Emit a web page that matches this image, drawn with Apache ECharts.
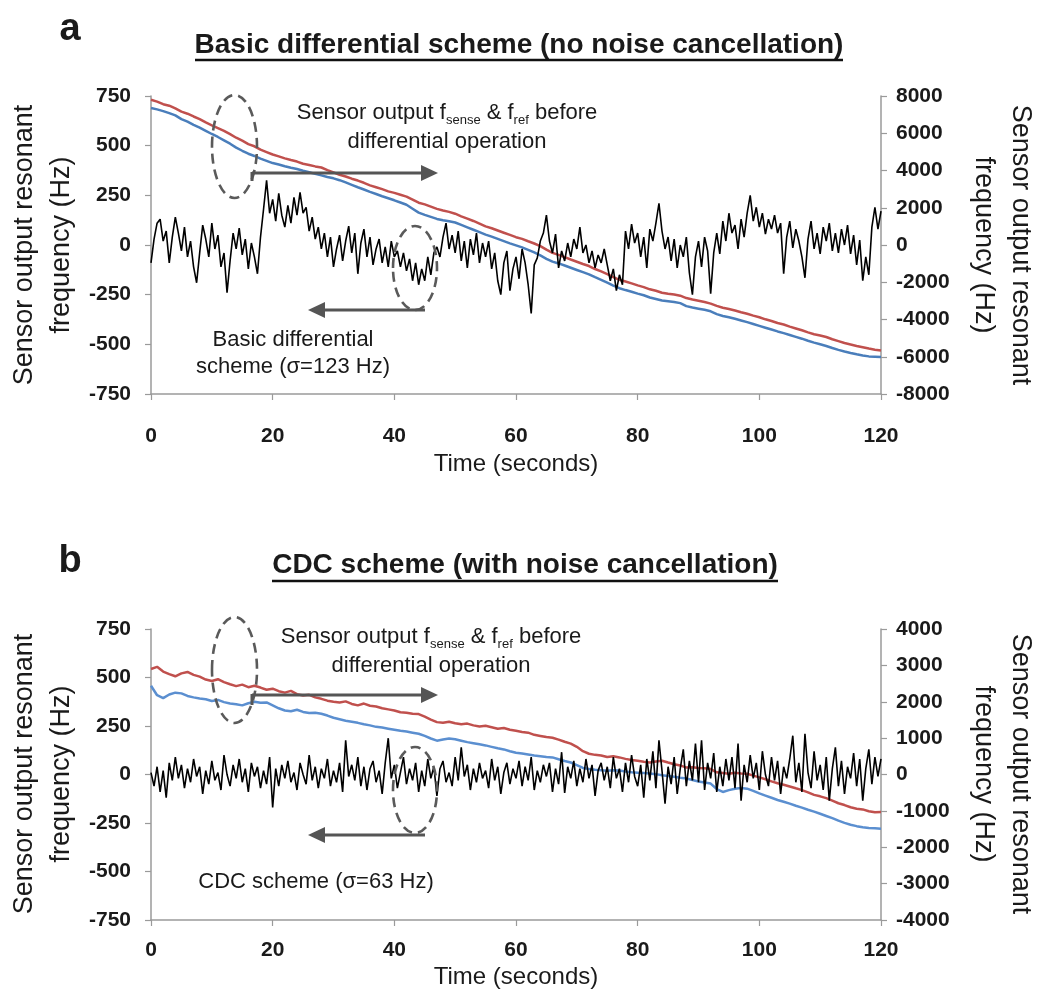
<!DOCTYPE html>
<html><head><meta charset="utf-8">
<script src="https://cdn.jsdelivr.net/npm/echarts@6/dist/echarts.min.js"></script>
<style>html,body{margin:0;padding:0;background:#fff}#c{width:1040px;height:997px}</style>
</head><body><div id="c"></div>
<script>
// ---------------- DATA ----------------
const xTickLabels = ['0','20','40','60','80','100','120'];
const leftTickLabels = ['-750','-500','-250','0','250','500','750'];
const rightTickLabelsA = ['-8000','-6000','-4000','-2000','0','2000','4000','6000','8000'];
const rightTickLabelsB = ['-4000','-3000','-2000','-1000','0','1000','2000','3000','4000'];

// Panel a: basic differential output (left axis, Hz), sampled every 0.5 s
const blackA = [
 -90,30,110,130,20,70,-90,40,140,60,
 -30,90,-60,20,-110,-190,-40,100,30,-60,
 110,-20,50,-110,-40,-240,-80,60,-20,85,
 -50,30,-120,10,-60,-145,40,180,325,160,
 230,120,260,150,90,200,110,240,150,265,
 160,190,70,140,30,90,-20,60,-60,40,
 -110,-20,50,-80,20,95,-40,60,-145,10,
 80,-60,40,-100,-20,30,-90,-10,-110,20,
 -60,-30,-110,-40,-130,-70,-180,-90,-200,-120,
 -180,-60,-150,-40,-10,-60,40,110,-20,50,
 -40,70,-80,20,-115,30,-50,60,-90,10,
 -60,20,-120,-40,-180,-250,-90,-30,-230,-120,
 -60,-170,-20,-90,-200,-345,-100,-65,20,60,
 150,20,-40,55,-115,-30,-80,10,-60,30,
 -20,90,-40,0,-90,-30,-115,-50,-90,-20,
 -100,-180,-120,-230,-150,-200,70,-20,105,10,
 60,-60,40,-115,80,20,110,210,70,-20,
 40,-80,30,-115,0,-60,40,-140,-250,-60,
 20,-110,40,-30,-245,-40,60,-45,120,20,
 160,60,100,-20,130,40,160,250,120,190,
 90,160,55,130,80,150,60,110,-145,40,
 120,-15,80,20,-60,-165,30,120,-20,60,
 -45,90,20,110,-30,60,-40,80,0,100,
 -45,50,-100,25,-180,-60,-150,90,190,80,
 170
];
// Panel a: f_sense (red) and f_ref (blue), right axis, every 1 s
const redA = [
 7800,7700,7560,7480,7330,7160,7050,6900,6760,6580,
 6420,6280,6130,5950,5760,5600,5420,5300,5120,4990,
 4860,4760,4650,4560,4480,4360,4300,4220,4160,4020,
 3900,3770,3680,3560,3460,3340,3200,3100,3000,2880,
 2800,2700,2600,2440,2270,2180,2060,1940,1850,1780,
 1680,1540,1420,1290,1150,1000,900,780,660,540,
 420,330,200,80,-60,-250,-420,-530,-650,-780,
 -900,-1020,-1130,-1290,-1420,-1560,-1720,-1870,-1960,-2060,
 -2170,-2260,-2380,-2460,-2560,-2620,-2660,-2720,-2850,-2930,
 -2990,-3060,-3150,-3270,-3370,-3440,-3520,-3610,-3690,-3790,
 -3880,-3990,-4080,-4190,-4270,-4380,-4480,-4580,-4690,-4790,
 -4860,-4940,-5060,-5160,-5260,-5340,-5420,-5490,-5560,-5620,
 -5660
];
const blueA = [
 7360,7280,7190,7080,6960,6760,6620,6450,6300,6130,
 5960,5800,5620,5440,5230,5060,4900,4780,4640,4520,
 4400,4320,4230,4150,4080,3990,3910,3820,3740,3650,
 3580,3480,3360,3230,3100,2980,2850,2740,2620,2510,
 2400,2280,2160,1950,1740,1620,1510,1400,1330,1280,
 1210,1080,950,820,690,560,450,330,210,90,
 -20,-130,-260,-400,-560,-740,-890,-990,-1100,-1220,
 -1340,-1460,-1580,-1730,-1870,-2020,-2180,-2320,-2420,-2510,
 -2610,-2700,-2820,-2900,-2980,-3020,-3060,-3120,-3280,-3360,
 -3420,-3480,-3560,-3710,-3810,-3880,-3960,-4050,-4140,-4240,
 -4340,-4440,-4540,-4640,-4730,-4830,-4930,-5030,-5140,-5240,
 -5330,-5420,-5530,-5630,-5720,-5800,-5870,-5930,-5980,-6000,
 -6020
];
// Panel b: CDC output (left axis, Hz), every 0.5 s
const blackB = [
 10,-60,40,-90,20,-120,60,-30,90,-20,
 50,-70,30,-40,80,-10,40,-100,20,-50,
 70,-30,10,-80,100,0,-60,50,-20,80,
 -40,30,-90,60,-10,40,-70,20,-50,90,
 -170,30,-60,50,-20,70,-40,10,-80,60,
 0,-50,100,-30,40,-70,30,-20,80,-60,
 20,-40,60,-90,176,-10,50,-30,90,-60,
 40,-80,30,70,-40,20,-100,60,187,-20,
 50,-70,10,90,-50,30,-30,60,-90,20,
 -60,80,-20,40,-110,30,70,-40,10,-60,
 90,-30,140,-10,50,-80,30,-40,60,-20,
 20,-70,80,-30,40,-100,10,60,-50,30,
 -20,70,-60,40,-30,90,-80,20,-40,50,
 -10,60,-90,30,-50,115,-95,40,-20,70,
 -60,30,-40,80,-20,50,-110,20,60,-30,
 40,-70,90,-20,30,-90,60,-40,100,-10,
 -60,50,-120,80,-30,120,-70,176,20,-150,
 40,-50,90,-100,30,130,-60,70,-30,160,
 -40,176,-80,60,-20,110,-90,40,-60,80,
 -30,90,-70,160,-135,50,-40,100,-20,60,
 -80,120,0,-60,90,-30,70,-100,40,-20,
 80,200,-40,60,-90,210,10,-70,120,-30,
 50,-80,90,-135,30,140,-60,70,-100,40,
 -20,110,-60,80,-135,30,130,-50,90,-10,
 80
];
const redB = [
 2900,2960,2830,2760,2700,2780,2820,2740,2690,2610,
 2570,2620,2540,2480,2430,2470,2400,2440,2390,2330,
 2360,2290,2250,2300,2210,2170,2190,2120,2080,2030,
 2000,1980,2010,1940,1900,1950,1890,1870,1820,1790,
 1760,1710,1700,1670,1660,1590,1510,1440,1420,1450,
 1410,1380,1400,1350,1320,1340,1300,1260,1280,1230,
 1200,1170,1150,1090,1060,1030,1010,960,900,850,
 760,640,570,540,520,480,500,470,430,400,
 380,350,330,360,380,330,280,250,190,200,
 180,170,150,60,40,20,50,30,20,-30,
 -80,-130,-190,-240,-280,-330,-380,-430,-490,-560,
 -600,-650,-720,-790,-840,-900,-940,-960,-1010,-1040,
 -1030
];
const blueB = [
 2440,2180,2100,2200,2250,2230,2160,2120,2090,2070,
 2020,2050,1990,1950,1930,1900,1960,2000,1970,1980,
 1900,1820,1760,1740,1780,1720,1690,1700,1670,1620,
 1560,1520,1480,1450,1420,1380,1350,1310,1290,1260,
 1230,1200,1180,1150,1120,1060,990,930,960,990,
 970,930,890,860,830,800,760,720,690,640,
 600,580,550,520,500,480,470,420,370,330,
 260,180,150,130,120,100,120,110,80,60,
 50,40,30,10,-20,-40,-60,-90,-110,-150,
 -190,-220,-250,-400,-480,-430,-390,-370,-390,-450,
 -520,-580,-640,-700,-750,-800,-860,-910,-970,-1020,
 -1080,-1140,-1200,-1270,-1330,-1380,-1420,-1450,-1470,-1480,
 -1490
];
const HALF_STEP = 0.5, FULL_STEP = 1;

// ---------------- CHART ----------------
const FF = '"Liberation Sans", Arial, Helvetica, sans-serif';
const pair = (arr, step) => arr.map((v, i) => [i * step, v]);
const axisGray = '#9a9a9a';
const RED = '#c0504d', BLUE = '#4a7ebb', BLUE_B = '#5b8fd0';

function yAxis(min, max, interval, labels, pos, gridIndex, margin) {
  return {
    type: 'value', gridIndex, position: pos, min, max, interval,
    axisLine: {show: true, lineStyle: {color: axisGray, width: 1.5}},
    axisTick: {show: true, length: 6, lineStyle: {color: axisGray, width: 1.2}},
    splitLine: {show: false},
    axisLabel: {margin, fontFamily: FF, fontWeight: 'bold', fontSize: 21, color: '#1a1a1a',
      formatter: v => { const s = String(v); return labels.indexOf(s) >= 0 ? s : ''; }}
  };
}
function xAxis(gridIndex, margin) {
  return {
    type: 'value', gridIndex, min: 0, max: 120, interval: 20,
    axisLine: {show: true, onZero: false, lineStyle: {color: axisGray, width: 1.5}},
    axisTick: {show: true, length: 6, lineStyle: {color: axisGray, width: 1.2}},
    splitLine: {show: false},
    axisLabel: {margin, fontFamily: FF, fontWeight: 'bold', fontSize: 21, color: '#1a1a1a',
      formatter: v => { const s = String(v); return xTickLabels.indexOf(s) >= 0 ? s : ''; }}
  };
}
function line(data, step, color, width, xi, yi, z) {
  return {type: 'line', xAxisIndex: xi, yAxisIndex: yi, data: pair(data, step), showSymbol: false,
    symbol: 'none', lineStyle: {color, width}, itemStyle: {color}, z, animation: false};
}
function txt(x, y, text, font, extra) {
  return Object.assign({type: 'text', x, y, z: 100,
    style: Object.assign({text, font, fill: '#1a1a1a', align: 'center', verticalAlign: 'middle'}, {})}, extra || {});
}
function ellipse(cx, cy, rx, ry) {
  return {type: 'ellipse', z: 100, shape: {cx, cy, rx, ry},
    style: {fill: 'none', stroke: '#5a5a5a', lineWidth: 2.6, lineDash: [10, 6]}};
}
function arrow(x1, x2, y, tickDown) {
  const dir = x2 > x1 ? 1 : -1;
  const els = [
    {type: 'line', z: 100, shape: {x1, y1: y, x2: x2 - dir * 14, y2: y}, style: {stroke: '#555', lineWidth: 3}},
    {type: 'polygon', z: 100, shape: {points: [[x2, y], [x2 - dir * 17, y - 8], [x2 - dir * 17, y + 8]]}, style: {fill: '#555'}}
  ];
  if (tickDown) els.push({type: 'line', z: 100, shape: {x1, y1: y - 1, x2: x1, y2: y + tickDown}, style: {stroke: '#555', lineWidth: 3}});
  return els;
}

const chart = echarts.init(document.getElementById('c'), null, {renderer: 'canvas'});
const nameFont = '27px ' + FF;
const annFont = '22px ' + FF;

const graphic = [
  txt(70, 30, 'a', 'bold 38px ' + FF),
  txt(519, 45, 'Basic differential scheme (no noise cancellation)', 'bold 28px ' + FF),
  {type: 'line', z: 100, shape: {x1: 195, y1: 60, x2: 843, y2: 60}, style: {stroke: '#111', lineWidth: 2.5}},
  txt(70, 562, 'b', 'bold 38px ' + FF),
  txt(525, 565, 'CDC scheme (with noise cancellation)', 'bold 28px ' + FF),
  {type: 'line', z: 100, shape: {x1: 272, y1: 581, x2: 778, y2: 581}, style: {stroke: '#111', lineWidth: 2.5}},
  // axis names
  Object.assign(txt(43, 245, 'Sensor output resonant\nfrequency (Hz)', nameFont), {rotation: Math.PI / 2}),
  Object.assign(txt(1002, 245, 'Sensor output resonant\nfrequency (Hz)', nameFont), {rotation: -Math.PI / 2}),
  Object.assign(txt(43, 774, 'Sensor output resonant\nfrequency (Hz)', nameFont), {rotation: Math.PI / 2}),
  Object.assign(txt(1002, 774, 'Sensor output resonant\nfrequency (Hz)', nameFont), {rotation: -Math.PI / 2}),
  txt(516, 464, 'Time (seconds)', '24px ' + FF),
  txt(516, 977, 'Time (seconds)', '24px ' + FF),
  // annotations
  txt(293, 353, 'Basic differential\nscheme (σ=123 Hz)', annFont),
  txt(316, 882, 'CDC scheme (σ=63 Hz)', annFont),
  ellipse(234.5, 146.5, 22.5, 51.5),
  ellipse(415, 268, 22, 42),
  ellipse(234.5, 670, 22.5, 53),
  ellipse(415, 790, 22, 43),
  ...arrow(252, 438, 173, 8),
  ...arrow(425, 308, 310, 0),
  ...arrow(252, 438, 695, 10),
  ...arrow(425, 308, 835, 0)
];
graphic.forEach(g => { if (g.style && g.style.text) g.style.lineHeight = g.style.font.indexOf('27px') >= 0 ? 37 : 27; });

const richAnn = {
  fontFamily: FF, fontSize: 22, fontWeight: 'normal', color: '#1a1a1a', lineHeight: 29,
  rich: {s: {fontFamily: FF, fontSize: 13, lineHeight: 13, verticalAlign: 'bottom', color: '#1a1a1a'}}
};

chart.setOption({
  animation: false,
  backgroundColor: '#fff',
  title: [
    {text: 'Sensor output f{s|sense} & f{s|ref} before\ndifferential operation', left: 447, top: 98,
      textAlign: 'center', textStyle: richAnn, padding: 0},
    {text: 'Sensor output f{s|sense} & f{s|ref} before\ndifferential operation', left: 431, top: 622,
      textAlign: 'center', textStyle: richAnn, padding: 0}
  ],
  grid: [
    {left: 151, right: 159, top: 96, height: 298},
    {left: 151, right: 159, top: 629, height: 291}
  ],
  xAxis: [xAxis(0, 32), xAxis(1, 20)],
  yAxis: [
    yAxis(-750, 750, 250, leftTickLabels, 'left', 0, 20),
    yAxis(-8000, 8000, 2000, rightTickLabelsA, 'right', 0, 15),
    yAxis(-750, 750, 250, leftTickLabels, 'left', 1, 20),
    yAxis(-4000, 4000, 1000, rightTickLabelsB, 'right', 1, 15)
  ],
  series: [
    line(redA, FULL_STEP, RED, 2.5, 0, 1, 2),
    line(blueA, FULL_STEP, BLUE, 2.5, 0, 1, 2),
    line(blackA, HALF_STEP, '#000', 1.6, 0, 0, 3),
    line(redB, FULL_STEP, RED, 2.5, 1, 3, 2),
    line(blueB, FULL_STEP, BLUE_B, 2.5, 1, 3, 2),
    line(blackB, HALF_STEP, '#000', 1.6, 1, 2, 3)
  ],
  graphic
});
</script></body></html>
